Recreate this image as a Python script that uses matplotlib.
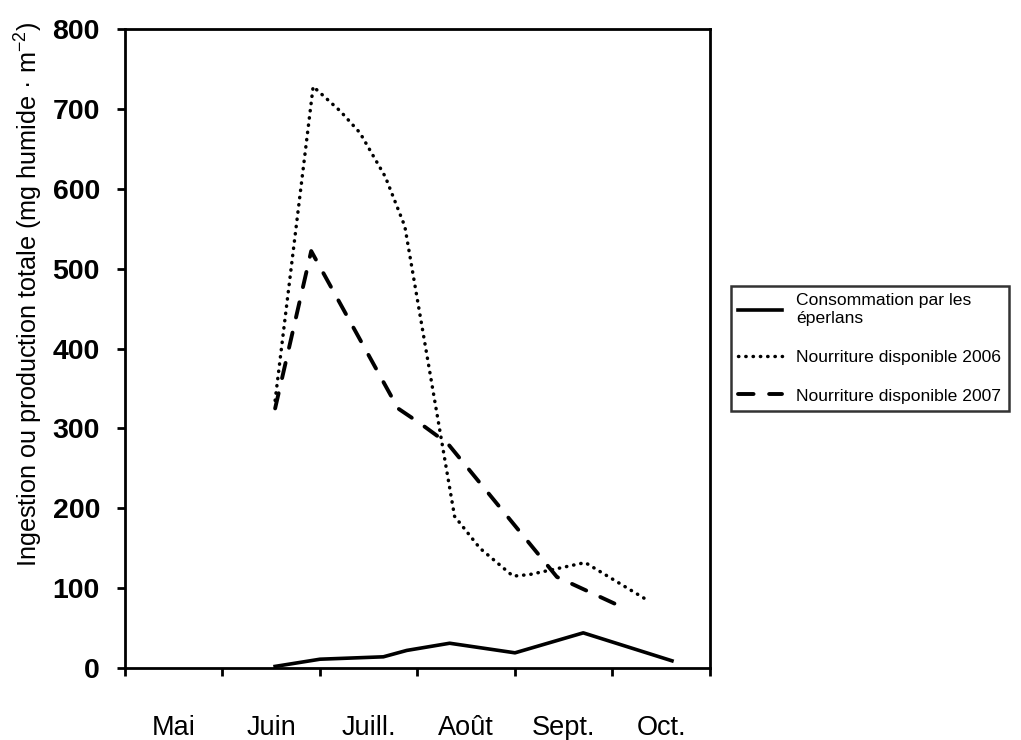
import matplotlib
matplotlib.use('Agg')
import matplotlib.pyplot as plt

plt.rcParams['font.family'] = ['Liberation Sans', 'DejaVu Sans']

# Month labels (placed between the month ticks)
months = ['Mai', 'Juin', 'Juill.', 'Août', 'Sept.', 'Oct.']

# Time positions in months since 1 May, values in mg humide / m2
conso_x = [1.54, 2.00, 2.65, 2.89, 3.33, 4.00, 4.70, 5.61]
conso_y = [2, 11, 14, 22, 31, 19, 44, 9]

dispo2006_x = [1.54, 1.93, 2.21, 2.41, 2.67, 2.87, 3.38, 3.64, 3.98, 4.15, 4.72, 5.37]
dispo2006_y = [335, 728, 697, 670, 615, 553, 190, 150, 115, 117, 132, 84]

dispo2007_x = [1.54, 1.91, 2.80, 3.03, 3.31, 4.43, 5.05]
dispo2007_y = [325, 522, 325, 306, 281, 114, 79]

fig = plt.figure(figsize=(10.21, 7.4), dpi=100)
ax = fig.add_axes([0.1224, 0.0973, 0.5730, 0.8635])

l1, = ax.plot(conso_x, conso_y, color='black', lw=2.6, solid_joinstyle='round',
              label='Consommation par les\néperlans')
l2, = ax.plot(dispo2006_x, dispo2006_y, color='black', lw=2.5,
              linestyle=(0, (0.1, 2.0)), dash_capstyle='round',
              label='Nourriture disponible 2006')
l3, = ax.plot(dispo2007_x, dispo2007_y, color='black', lw=2.8,
              linestyle=(0, (4, 4)), dash_capstyle='round',
              label='Nourriture disponible 2007')

ax.set_xlim(0, 6)
ax.set_ylim(0, 800)
ax.set_xticks(range(7))
ax.set_xticklabels([])
ax.set_xticks([i + 0.5 for i in range(6)], minor=True)
ax.set_xticklabels(months, minor=True, fontsize=19.5)
ax.tick_params(axis='x', which='minor', length=0, pad=34)
ax.tick_params(axis='x', which='major', length=6, width=2)

ax.set_yticks(range(0, 801, 100))
ax.set_yticklabels([str(v) for v in range(0, 801, 100)], fontsize=20.5, fontweight='bold')
ax.tick_params(axis='y', length=6, width=2, pad=12)

for s in ax.spines.values():
    s.set_linewidth(2)

ax.set_ylabel('Ingestion ou production totale (mg humide · m$^{\\mathregular{-2}}$)',
              fontsize=18.2)
ax.yaxis.set_label_coords(-0.137, 0.585)

leg = fig.legend(handles=[l1, l2, l3], loc='center left',
                 bbox_to_anchor=(0.707, 0.529), fontsize=12.6, frameon=True,
                 fancybox=False, edgecolor='black', handlelength=2.5,
                 labelspacing=1.35, borderpad=0.45, handletextpad=0.8)
leg.get_frame().set_linewidth(1.8)

fig.savefig('out.png', dpi=100)
